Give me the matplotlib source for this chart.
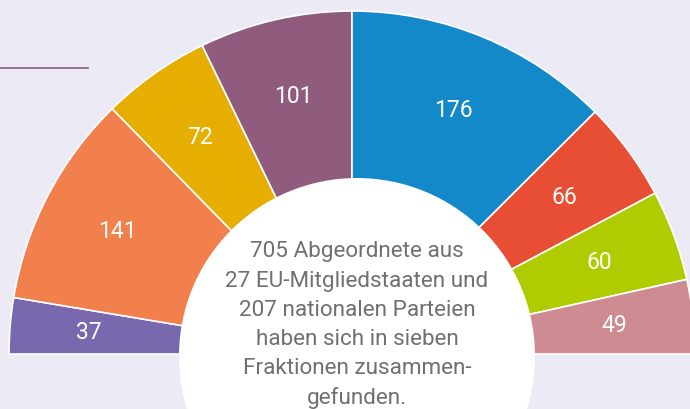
import numpy as np
import matplotlib
matplotlib.use('Agg')
import matplotlib.pyplot as plt
from matplotlib.patches import Wedge, Circle

seats = [37, 141, 72, 101, 176, 66, 60, 49]
colors = ['#7A68AE', '#F2804C', '#E5AE00', '#8F5C7E', '#1389C9', '#E84E33', '#B0CB00', '#CE8B91']
info = ['705 Abgeordnete aus', '27 EU-Mitgliedstaaten und', '207 nationalen Parteien',
        'haben sich in sieben', 'Fraktionen zusammen-', 'gefunden.']

bg = '#ECEAF5'
plt.rcParams['font.family'] = ['Roboto', 'DejaVu Sans']

fig = plt.figure(figsize=(6.9, 4.09), dpi=100, facecolor=bg)
ax = fig.add_axes([0, 0, 1, 1])
ax.set_facecolor(bg)
ax.set_xlim(-352, 338)
ax.set_ylim(-55, 354)
ax.set_aspect('equal')
ax.axis('off')

R = 343
total = sum(seats)
start = 180.0
for n, c in zip(seats, colors):
    span = n / total * 180
    ax.add_patch(Wedge((0, 0), R, start - span, start, facecolor=c,
                       edgecolor='white', linewidth=1.2))
    mid = np.radians(start - span / 2)
    ax.text(0.77 * R * np.cos(mid), 0.77 * R * np.sin(mid), str(n),
            color='white', fontsize=16.5, ha='center', va='center')
    start -= span

# white centre circle with the description
ax.add_patch(Circle((5, -2), 178, facecolor='white', edgecolor='none', zorder=3))
for i, line in enumerate(info):
    ax.text(5, 102 - i * 29.2, line, color='#707070', fontsize=16.2,
            ha='center', va='center', zorder=4)

ax.plot([-352, -264], [286, 286], color='#8F6A8C', linewidth=1.3)

fig.savefig('out.png', dpi=100, facecolor=bg)
